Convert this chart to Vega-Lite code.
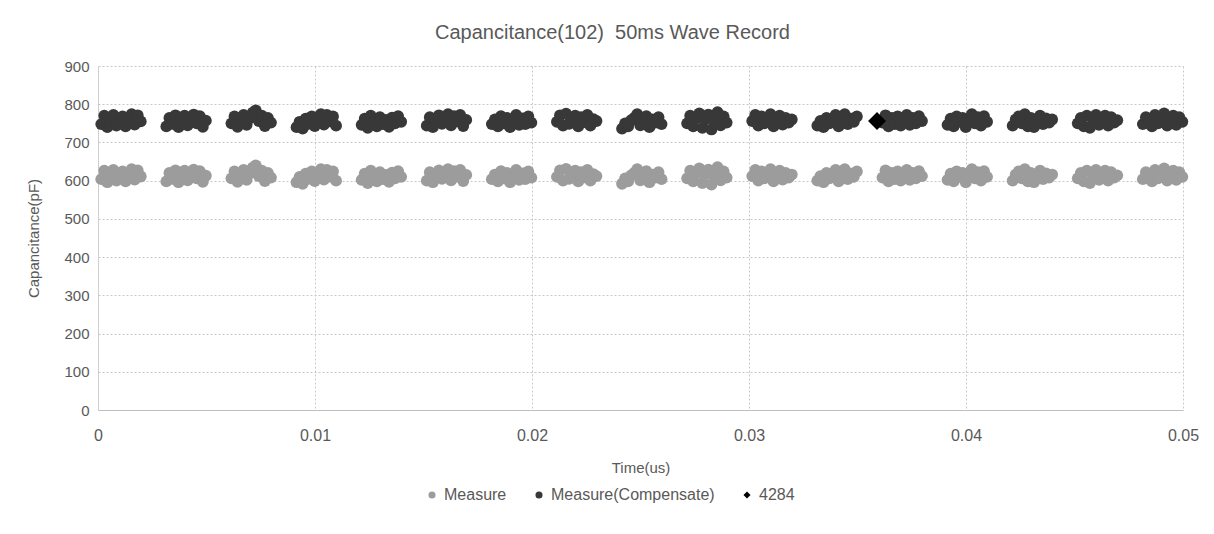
{
"$schema": "https://vega.github.io/schema/vega-lite/v6.json",
"width": 1085, "height": 344,
"autosize": "none",
"padding": {"left": 98, "top": 66, "right": 31, "bottom": 124},
"background": "white",
"config": {"font": "Liberation Sans", "view": {"stroke": null}},
"title": {"text": "Capancitance(102)\u00a0 50ms Wave Record", "fontSize": 20, "fontWeight": "normal", "color": "#595959", "offset": 16, "dx": -28, "anchor": "middle", "frame": "group", "font": "Liberation Sans"},
"datasets": {
"pts": [
{"t":0.00015,"m":604,"c":748},{"t":0.00029,"m":626,"c":770},{"t":0.00043,"m":596,"c":740},{"t":0.00057,"m":615,"c":759},{"t":0.00071,"m":628,"c":772},{"t":0.00085,"m":600,"c":744},{"t":0.00099,"m":612,"c":756},{"t":0.00113,"m":624,"c":768},{"t":0.00127,"m":598,"c":742},{"t":0.00141,"m":618,"c":762},{"t":0.00155,"m":630,"c":774},{"t":0.00169,"m":603,"c":747},{"t":0.00183,"m":627,"c":771},{"t":0.00197,"m":611,"c":755},
{"t":0.00315,"m":598,"c":742},{"t":0.00329,"m":620,"c":764},{"t":0.00343,"m":605,"c":749},{"t":0.00357,"m":627,"c":771},{"t":0.00371,"m":596,"c":740},{"t":0.00385,"m":612,"c":756},{"t":0.00399,"m":626,"c":770},{"t":0.00413,"m":601,"c":745},{"t":0.00427,"m":617,"c":761},{"t":0.00441,"m":629,"c":773},{"t":0.00455,"m":606,"c":750},{"t":0.00469,"m":625,"c":769},{"t":0.00483,"m":597,"c":741},{"t":0.00497,"m":613,"c":757},
{"t":0.00615,"m":606,"c":750},{"t":0.00629,"m":624,"c":768},{"t":0.00643,"m":597,"c":741},{"t":0.00657,"m":614,"c":758},{"t":0.00671,"m":628,"c":772},{"t":0.00685,"m":602,"c":746},{"t":0.00699,"m":619,"c":763},{"t":0.00713,"m":634,"c":778},{"t":0.00727,"m":640,"c":784},{"t":0.00741,"m":612,"c":756},{"t":0.00755,"m":626,"c":770},{"t":0.00769,"m":599,"c":743},{"t":0.00783,"m":620,"c":764},{"t":0.00797,"m":608,"c":752},
{"t":0.00915,"m":596,"c":740},{"t":0.00929,"m":610,"c":754},{"t":0.00943,"m":592,"c":736},{"t":0.00957,"m":618,"c":762},{"t":0.00971,"m":605,"c":749},{"t":0.00985,"m":624,"c":768},{"t":0.00999,"m":599,"c":743},{"t":0.01013,"m":616,"c":760},{"t":0.01027,"m":630,"c":774},{"t":0.01041,"m":603,"c":747},{"t":0.01055,"m":628,"c":772},{"t":0.01069,"m":611,"c":755},{"t":0.01083,"m":624,"c":768},{"t":0.01097,"m":600,"c":744},
{"t":0.01215,"m":602,"c":746},{"t":0.01229,"m":618,"c":762},{"t":0.01243,"m":594,"c":738},{"t":0.01257,"m":626,"c":770},{"t":0.01271,"m":608,"c":752},{"t":0.01285,"m":598,"c":742},{"t":0.01299,"m":622,"c":766},{"t":0.01313,"m":604,"c":748},{"t":0.01327,"m":615,"c":759},{"t":0.01341,"m":597,"c":741},{"t":0.01355,"m":621,"c":765},{"t":0.01369,"m":606,"c":750},{"t":0.01383,"m":625,"c":769},{"t":0.01397,"m":610,"c":754},
{"t":0.01515,"m":600,"c":744},{"t":0.01529,"m":622,"c":766},{"t":0.01543,"m":596,"c":740},{"t":0.01557,"m":614,"c":758},{"t":0.01571,"m":627,"c":771},{"t":0.01585,"m":605,"c":749},{"t":0.01599,"m":618,"c":762},{"t":0.01613,"m":630,"c":774},{"t":0.01627,"m":601,"c":745},{"t":0.01641,"m":625,"c":769},{"t":0.01655,"m":611,"c":755},{"t":0.01669,"m":628,"c":772},{"t":0.01683,"m":599,"c":743},{"t":0.01697,"m":615,"c":759},
{"t":0.01815,"m":604,"c":748},{"t":0.01829,"m":616,"c":760},{"t":0.01843,"m":598,"c":742},{"t":0.01857,"m":625,"c":769},{"t":0.01871,"m":606,"c":750},{"t":0.01885,"m":620,"c":764},{"t":0.01899,"m":596,"c":740},{"t":0.01913,"m":614,"c":758},{"t":0.01927,"m":628,"c":772},{"t":0.01941,"m":602,"c":746},{"t":0.01955,"m":619,"c":763},{"t":0.01969,"m":604,"c":748},{"t":0.01983,"m":624,"c":768},{"t":0.01997,"m":608,"c":752},
{"t":0.02115,"m":610,"c":754},{"t":0.02129,"m":627,"c":771},{"t":0.02143,"m":600,"c":744},{"t":0.02157,"m":631,"c":775},{"t":0.02171,"m":605,"c":749},{"t":0.02185,"m":619,"c":763},{"t":0.02199,"m":626,"c":770},{"t":0.02213,"m":598,"c":742},{"t":0.02227,"m":622,"c":766},{"t":0.02241,"m":609,"c":753},{"t":0.02255,"m":628,"c":772},{"t":0.02269,"m":600,"c":744},{"t":0.02283,"m":617,"c":761},{"t":0.02297,"m":612,"c":756},
{"t":0.02415,"m":592,"c":736},{"t":0.02429,"m":606,"c":750},{"t":0.02443,"m":598,"c":742},{"t":0.02457,"m":614,"c":758},{"t":0.02471,"m":620,"c":764},{"t":0.02485,"m":630,"c":774},{"t":0.02499,"m":601,"c":745},{"t":0.02513,"m":618,"c":762},{"t":0.02527,"m":625,"c":769},{"t":0.02541,"m":596,"c":740},{"t":0.02555,"m":616,"c":760},{"t":0.02569,"m":608,"c":752},{"t":0.02583,"m":622,"c":766},{"t":0.02597,"m":604,"c":748},
{"t":0.02715,"m":606,"c":750},{"t":0.02729,"m":626,"c":770},{"t":0.02743,"m":598,"c":742},{"t":0.02757,"m":620,"c":764},{"t":0.02771,"m":632,"c":776},{"t":0.02785,"m":594,"c":738},{"t":0.02799,"m":616,"c":760},{"t":0.02813,"m":629,"c":773},{"t":0.02827,"m":590,"c":734},{"t":0.02841,"m":612,"c":756},{"t":0.02855,"m":635,"c":779},{"t":0.02869,"m":601,"c":745},{"t":0.02883,"m":624,"c":768},{"t":0.02897,"m":608,"c":752},
{"t":0.03015,"m":612,"c":756},{"t":0.03029,"m":628,"c":772},{"t":0.03043,"m":600,"c":744},{"t":0.03057,"m":624,"c":768},{"t":0.03071,"m":606,"c":750},{"t":0.03085,"m":618,"c":762},{"t":0.03099,"m":630,"c":774},{"t":0.03113,"m":598,"c":742},{"t":0.03127,"m":614,"c":758},{"t":0.03141,"m":626,"c":770},{"t":0.03155,"m":603,"c":747},{"t":0.03169,"m":620,"c":764},{"t":0.03183,"m":608,"c":752},{"t":0.03197,"m":616,"c":760},
{"t":0.03315,"m":600,"c":744},{"t":0.03329,"m":612,"c":756},{"t":0.03343,"m":596,"c":740},{"t":0.03357,"m":620,"c":764},{"t":0.03371,"m":606,"c":750},{"t":0.03385,"m":616,"c":760},{"t":0.03399,"m":628,"c":772},{"t":0.03413,"m":598,"c":742},{"t":0.03427,"m":622,"c":766},{"t":0.03441,"m":630,"c":774},{"t":0.03455,"m":604,"c":748},{"t":0.03469,"m":618,"c":762},{"t":0.03483,"m":610,"c":754},{"t":0.03497,"m":624,"c":768},
{"t":0.03615,"m":608,"c":752},{"t":0.03629,"m":627,"c":771},{"t":0.03643,"m":598,"c":742},{"t":0.03657,"m":620,"c":764},{"t":0.03671,"m":604,"c":748},{"t":0.03685,"m":624,"c":768},{"t":0.03699,"m":600,"c":744},{"t":0.03713,"m":616,"c":760},{"t":0.03727,"m":628,"c":772},{"t":0.03741,"m":602,"c":746},{"t":0.03755,"m":620,"c":764},{"t":0.03769,"m":606,"c":750},{"t":0.03783,"m":625,"c":769},{"t":0.03797,"m":612,"c":756},
{"t":0.03915,"m":602,"c":746},{"t":0.03929,"m":618,"c":762},{"t":0.03943,"m":598,"c":742},{"t":0.03957,"m":624,"c":768},{"t":0.03971,"m":610,"c":754},{"t":0.03985,"m":620,"c":764},{"t":0.03999,"m":596,"c":740},{"t":0.04013,"m":614,"c":758},{"t":0.04027,"m":630,"c":774},{"t":0.04041,"m":606,"c":750},{"t":0.04055,"m":622,"c":766},{"t":0.04069,"m":600,"c":744},{"t":0.04083,"m":625,"c":769},{"t":0.04097,"m":610,"c":754},
{"t":0.04215,"m":600,"c":744},{"t":0.04229,"m":616,"c":760},{"t":0.04243,"m":624,"c":768},{"t":0.04257,"m":606,"c":750},{"t":0.04271,"m":630,"c":774},{"t":0.04285,"m":598,"c":742},{"t":0.04299,"m":620,"c":764},{"t":0.04313,"m":596,"c":740},{"t":0.04327,"m":612,"c":756},{"t":0.04341,"m":626,"c":770},{"t":0.04355,"m":604,"c":748},{"t":0.04369,"m":619,"c":763},{"t":0.04383,"m":608,"c":752},{"t":0.04397,"m":616,"c":760},
{"t":0.04515,"m":606,"c":750},{"t":0.04529,"m":620,"c":764},{"t":0.04543,"m":598,"c":742},{"t":0.04557,"m":626,"c":770},{"t":0.04571,"m":594,"c":738},{"t":0.04585,"m":614,"c":758},{"t":0.04599,"m":628,"c":772},{"t":0.04613,"m":602,"c":746},{"t":0.04627,"m":618,"c":762},{"t":0.04641,"m":626,"c":770},{"t":0.04655,"m":600,"c":744},{"t":0.04669,"m":622,"c":766},{"t":0.04683,"m":608,"c":752},{"t":0.04697,"m":614,"c":758},
{"t":0.04815,"m":604,"c":748},{"t":0.04829,"m":622,"c":766},{"t":0.04843,"m":612,"c":756},{"t":0.04857,"m":598,"c":742},{"t":0.04871,"m":628,"c":772},{"t":0.04885,"m":606,"c":750},{"t":0.04899,"m":620,"c":764},{"t":0.04913,"m":632,"c":776},{"t":0.04927,"m":600,"c":744},{"t":0.04941,"m":618,"c":762},{"t":0.04955,"m":626,"c":770},{"t":0.04969,"m":602,"c":746},{"t":0.04983,"m":622,"c":766},{"t":0.04997,"m":610,"c":754}
],
"mk": [{"t":0.0359,"v":756,"series":"d"}]
},
"encoding": {
"x": {"field": "t", "type": "quantitative", "scale": {"domain": [0, 0.05], "nice": false, "zero": false},
"axis": {"values": [0, 0.01, 0.02, 0.03, 0.04, 0.05], "format": "~g", "title": "Time(us)", "grid": true, "gridDash": [2, 2], "gridColor": "#c8c8c8", "tickSize": 0, "labelPadding": 17, "labelFlush": false, "domainColor": "#bfbfbf", "labelFontSize": 16, "labelColor": "#595959", "titleFontSize": 15, "titleFontWeight": "normal", "titleColor": "#595959", "titlePadding": 17, "labelFont": "Liberation Sans", "titleFont": "Liberation Sans"}},
"y": {"field": "v", "type": "quantitative", "scale": {"domain": [0, 900], "nice": false},
"axis": {"values": [0, 100, 200, 300, 400, 500, 600, 700, 800, 900], "title": "Capancitance(pF)", "grid": true, "gridDash": [2, 2], "gridColor": "#c8c8c8", "tickSize": 0, "labelPadding": 9, "labelFlush": false, "domainColor": "#c8c8c8", "domainDash": [2, 2], "labelFontSize": 15, "labelColor": "#595959", "titleFontSize": 15, "titleFontWeight": "normal", "titleColor": "#595959", "titlePadding": 22, "labelFont": "Liberation Sans", "titleFont": "Liberation Sans"}},
"color": {"field": "series", "type": "nominal", "scale": {"domain": ["m", "c", "d"], "range": ["#9c9c9c", "#383838", "#000000"]},
"legend": {"orient": "none", "legendX": 326, "legendY": 421, "direction": "horizontal", "title": null, "labelExpr": "datum.label == 'm' ? 'Measure' : datum.label == 'c' ? 'Measure(Compensate)' : '4284'", "labelFontSize": 16, "labelLimit": 400, "labelColor": "#595959", "symbolSize": 50, "columnPadding": 24, "labelFont": "Liberation Sans", "symbolOpacity": 1}},
"shape": {"field": "series", "type": "nominal", "scale": {"domain": ["m", "c", "d"], "range": ["circle", "circle", "diamond"]}}
},
"layer": [
{"data": {"name": "pts"}, "transform": [{"fold": ["m", "c"], "as": ["series", "v"]}], "mark": {"type": "point", "filled": true, "size": 140, "opacity": 1}},
{"data": {"name": "mk"}, "mark": {"type": "point", "filled": true, "size": 320, "opacity": 1}}
]
}
